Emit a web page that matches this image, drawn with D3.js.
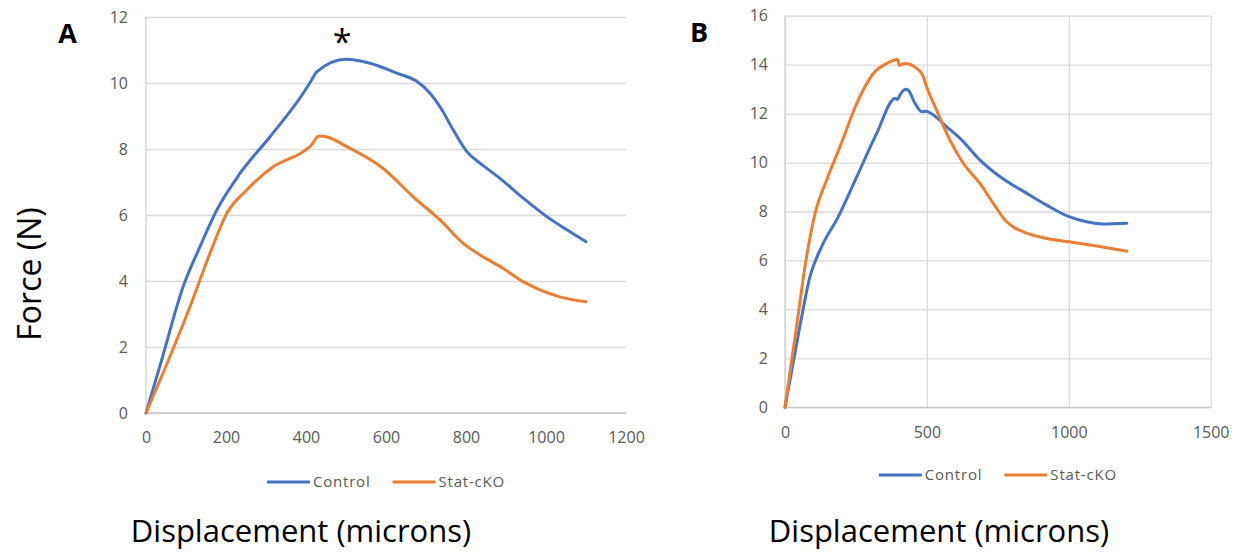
<!DOCTYPE html>
<html>
<head>
<meta charset="utf-8">
<script src="https://cdn.jsdelivr.net/npm/d3@7"></script>
<style>
  body { margin: 0; background: #fff; }
  svg text { font-family: "Open Sans", "Liberation Sans", sans-serif; }
</style>
</head>
<body>
<div id="chart"></div>
<script>
// values: [displacement (microns), force (N)]
const controlA = [[0,0],[39,1.6],[93,3.83],[135,5.04],[177,6.15],[235,7.26],[310,8.37],[393,9.69],[414,10.09],[427,10.34],[500,10.72],[560,10.6],[627,10.3],[677,10.05],[710,9.69],[735,9.28],[768,8.58],[802,7.92],[835,7.57],[885,7.11],[943,6.51],[1002,5.95],[1052,5.55],[1100,5.19]];
const statA = [[0,0],[56,1.6],[110,3.22],[160,4.84],[202,6.05],[252,6.76],[318,7.46],[393,7.92],[414,8.12],[431,8.39],[443,8.39],[502,8.07],[593,7.41],[668,6.55],[735,5.85],[793,5.14],[835,4.79],[893,4.38],[943,3.98],[985,3.73],[1035,3.52],[1100,3.37]];

const controlB = [[0,0],[50,3.16],[88,5.34],[129,6.56],[188,7.79],[253,9.42],[323,11.19],[388,12.62],[396,12.58],[405,12.76],[425,12.99],[434,12.96],[458,12.42],[482,12.08],[497,12.1],[523,11.94],[570,11.46],[617,10.99],[687,10.1],[758,9.42],[852,8.74],[922,8.26],[996,7.81],[1063,7.58],[1122,7.49],[1204,7.52]];
const statB = [[0,0],[39,3.16],[76,6.15],[106,7.92],[147,9.29],[194,10.65],[253,12.42],[311,13.64],[358,14.05],[396,14.21],[403,13.98],[423,14.05],[464,13.85],[485,13.57],[499,13.1],[534,12.14],[581,10.92],[628,9.97],[687,9.15],[734,8.33],[781,7.58],[810,7.33],[840,7.17],[922,6.9],[996,6.77],[1098,6.59],[1204,6.38]];

const seriesNames = ['Control', 'Stat-cKO'];
const seriesColors = ['#4472C4', '#ED7D31'];

const xTicksA = [0, 200, 400, 600, 800, 1000, 1200];
const yTicksA = [0, 2, 4, 6, 8, 10, 12];
const xTicksB = [0, 500, 1000, 1500];
const yTicksB = [0, 2, 4, 6, 8, 10, 12, 14, 16];

const svg = d3.select('#chart').append('svg')
    .attr('width', 1246)
    .attr('height', 552)
    .style('background', '#fff');

function drawPanel(p) {
    const x = d3.scaleLinear().domain([0, d3.max(p.xTicks)]).range([p.left, p.right]);
    const y = d3.scaleLinear().domain([0, d3.max(p.yTicks)]).range([p.bottom, p.top]);
    const g = svg.append('g');

    // horizontal gridlines + y labels
    g.append('g')
        .attr('transform', `translate(${p.left},0)`)
        .call(d3.axisLeft(y).tickValues(p.yTicks).tickFormat(d3.format('d'))
            .tickSize(-(p.right - p.left)).tickPadding(p.yPad))
        .call(a => a.select('.domain').remove())
        .call(a => a.selectAll('line').attr('stroke', '#d9d9d9').attr('stroke-width', 1.3))
        .call(a => a.selectAll('text').attr('fill', '#595959').style('font-size', '16px'));

    // x axis (vertical gridlines only on panel B)
    const xAxis = d3.axisBottom(x).tickValues(p.xTicks).tickFormat(d3.format('d'))
        .tickPadding(19)
        .tickSize(p.vGrid ? -(p.bottom - p.top) : 0);
    g.append('g')
        .attr('transform', `translate(0,${p.bottom})`)
        .call(xAxis)
        .call(a => a.select('.domain').remove())
        .call(a => a.selectAll('line').attr('stroke', '#d9d9d9').attr('stroke-width', 1.3))
        .call(a => a.selectAll('text').attr('fill', '#595959').style('font-size', '16px'));

    // axis lines
    g.append('line')
        .attr('x1', x(0)).attr('x2', x(0)).attr('y1', p.top).attr('y2', p.bottom)
        .attr('stroke', '#d0d0d0').attr('stroke-width', 1.3);
    g.append('line')
        .attr('x1', p.left).attr('x2', p.right).attr('y1', y(0)).attr('y2', y(0))
        .attr('stroke', '#c8c8c8').attr('stroke-width', 1.3);

    const line = d3.line()
        .x(d => x(d[0]))
        .y(d => y(d[1]))
        .curve(d3.curveMonotoneX);

    p.series.forEach((s, i) => {
        g.append('path')
            .datum(s)
            .attr('fill', 'none')
            .attr('stroke', seriesColors[i])
            .attr('stroke-width', 3)
            .attr('stroke-linejoin', 'round')
            .attr('stroke-linecap', 'round')
            .attr('d', line);
    });

    // legend, centred under the plot
    const lg = g.append('g');
    let cx = 0;
    seriesNames.forEach((name, i) => {
        lg.append('line')
            .attr('x1', cx).attr('x2', cx + 43)
            .attr('y1', 0).attr('y2', 0)
            .attr('stroke', seriesColors[i]).attr('stroke-width', 3);
        const t = lg.append('text')
            .attr('x', cx + 46).attr('y', 0).attr('dy', '0.35em')
            .attr('fill', '#595959')
            .style('font-size', '15px')
            .style('letter-spacing', '0.8px')
            .text(name);
        cx += 46 + t.node().getComputedTextLength() + 22;
    });
    const lw = cx - 22;
    lg.attr('transform', `translate(${(p.left + p.right) / 2 - lw / 2},${p.legendY})`);

    // x title
    g.append('text')
        .attr('x', p.titleX).attr('y', 542)
        .attr('text-anchor', 'middle')
        .attr('fill', '#000')
        .style('font-size', '31px')
        .text('Displacement (microns)');

    // panel letter
    g.append('text')
        .attr('x', p.letterX).attr('y', p.letterY)
        .attr('text-anchor', 'middle')
        .attr('fill', '#000')
        .style('font-size', '27px')
        .style('font-weight', 'bold')
        .text(p.letter);

    return { x, y, g };
}

const A = drawPanel({
    left: 146, right: 626, top: 17, bottom: 413,
    xTicks: xTicksA, yTicks: yTicksA, yPad: 18, vGrid: false,
    series: [controlA, statA], legendY: 482,
    titleX: 301, letter: 'A', letterX: 67.5, letterY: 42.5
});

const B = drawPanel({
    left: 785, right: 1210.7, top: 15.7, bottom: 407.3,
    xTicks: xTicksB, yTicks: yTicksB, yPad: 17, vGrid: true,
    series: [controlB, statB], legendY: 475,
    titleX: 939, letter: 'B', letterX: 699, letterY: 41.5
});

// y title
svg.append('text')
    .attr('transform', 'translate(41,274) rotate(-90)')
    .attr('text-anchor', 'middle')
    .attr('fill', '#000')
    .style('font-size', '32px')
    .text('Force (N)');

// significance marker over the control peak
svg.append('text')
    .attr('x', A.x(490)).attr('y', 54)
    .attr('text-anchor', 'middle')
    .attr('fill', '#000')
    .style('font-size', '34px')
    .text('*');
</script>
</body>
</html>
